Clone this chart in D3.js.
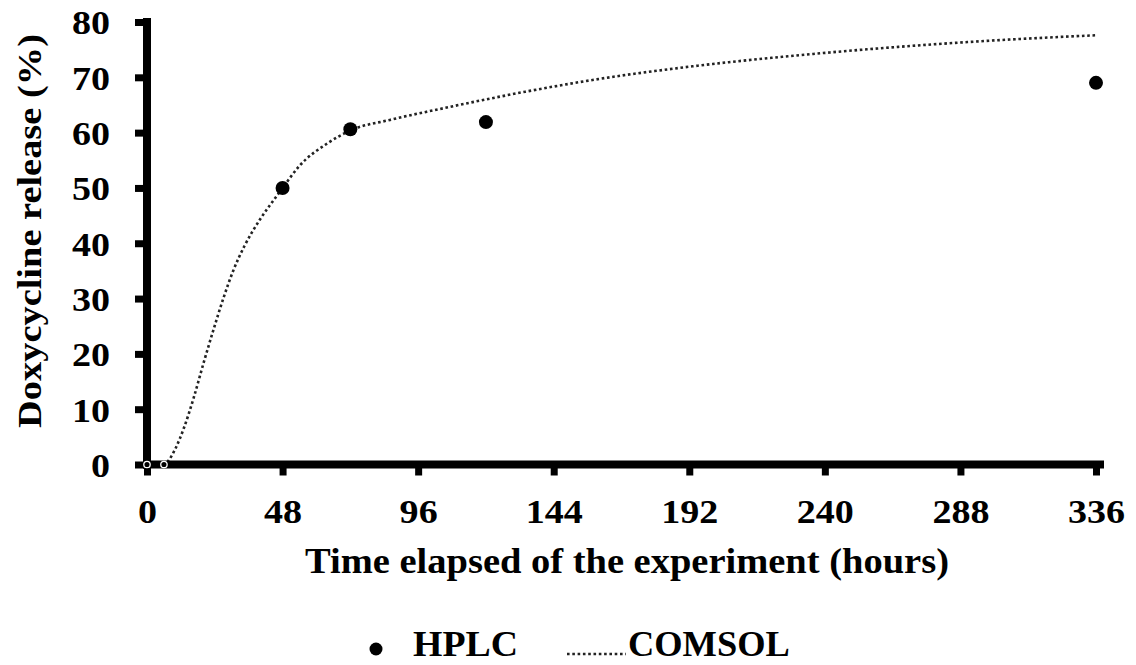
<!DOCTYPE html>
<html>
<head>
<meta charset="utf-8">
<script src="https://cdn.jsdelivr.net/npm/d3@7"></script>
<style>
  body { margin: 0; background: #fff; }
  text { font-family: "Liberation Serif", "Times New Roman", serif; font-weight: bold; fill: #000; }
</style>
</head>
<body>
<script>
// HPLC measurements
var hplcHours = [0, 6, 48, 72, 120, 336];
var hplcRelease = [0, 0, 50, 60.6, 61.9, 69];

// COMSOL model curve
var comsolHours = [0, 6, 8, 10, 13, 16.5, 20, 23.5, 27, 30.5, 34.5, 40, 45, 48, 54, 64, 72, 86, 103, 119, 134, 160, 195, 231, 266, 301, 336];
var comsolRelease = [0, 0, 1, 2.8, 6.5, 12, 18.3, 24.3, 30, 35, 39.5, 44.3, 47.9, 50, 54, 58.1, 60.4, 62.3, 64.2, 65.9, 67.4, 69.7, 72.1, 74, 75.5, 76.7, 77.6];

var xTicks = [0, 48, 96, 144, 192, 240, 288, 336];
var yTicks = [0, 10, 20, 30, 40, 50, 60, 70, 80];

var width = 1136, height = 665;
var stretch = 1.12; // the source text is a bit wide

var x = d3.scaleLinear().domain([0, 336]).range([147, 1096]);
var y = d3.scaleLinear().domain([0, 80]).range([464.5, 22]);

var svg = d3.select("body").append("svg")
    .attr("width", width)
    .attr("height", height);

svg.append("rect").attr("width", width).attr("height", height).attr("fill", "#fff");

// model curve
var line = d3.line()
    .x(function(d) { return x(d[0]); })
    .y(function(d) { return y(d[1]); })
    .curve(d3.curveMonotoneX);

var comsol = comsolHours.map(function(t, i) { return [t, comsolRelease[i]]; });

svg.append("path")
    .datum(comsol)
    .attr("d", line)
    .attr("fill", "none")
    .attr("stroke", "#222")
    .attr("stroke-width", 2.6)
    .attr("stroke-dasharray", "2.6,2.7");

// axes
var yAxis = svg.append("g")
    .attr("transform", "translate(" + x(0) + ",0)")
    .call(d3.axisLeft(y).tickValues(yTicks).tickSize(12).tickSizeOuter(0));

var xAxis = svg.append("g")
    .attr("transform", "translate(0," + y(0) + ")")
    .call(d3.axisBottom(x).tickValues(xTicks).tickSize(11).tickSizeOuter(0));

[yAxis, xAxis].forEach(function(g) {
  g.select(".domain").attr("stroke", "#000").attr("stroke-width", 8);
  g.selectAll(".tick line").attr("stroke", "#000").attr("stroke-width", 7);
  g.selectAll(".tick text")
      .style("font-family", "'Liberation Serif', serif")
      .style("font-weight", "bold")
      .style("font-size", "34px")
      .attr("fill", "#000")
      .attr("x", null).attr("y", null).attr("dy", null);
});
yAxis.selectAll(".tick text")
    .attr("dy", "0.35em")
    .attr("transform", "translate(-37,0)scale(" + stretch + ",1)");
xAxis.selectAll(".tick text")
    .attr("transform", "translate(0,58.5)scale(" + stretch + ",1)");

// extend domains a bit past the end ticks
yAxis.select(".domain").attr("d", "M0," + (y(0) + 4) + "V" + (y(80) - 4));
xAxis.select(".domain").attr("d", "M" + (x(0) - 4) + ",0H" + (x(336) + 8));

// HPLC points
var hplc = hplcHours.map(function(t, i) { return [t, hplcRelease[i]]; });
svg.selectAll(".hplc")
    .data(hplc)
  .enter().append("circle")
    .attr("class", "hplc")
    .attr("cx", function(d) { return x(d[0]); })
    .attr("cy", function(d) { return y(d[1]); })
    .attr("r", function(d) { return d[1] === 0 ? 3.2 : 7; })
    .attr("fill", "#000")
    .attr("stroke", function(d) { return d[1] === 0 ? "#fff" : "none"; })
    .attr("stroke-width", 1.3);

// axis titles
svg.append("text")
    .attr("transform", "translate(627,573)scale(1.1,1)")
    .attr("text-anchor", "middle")
    .style("font-size", "35px")
    .text("Time elapsed of the experiment (hours)");

svg.append("text")
    .attr("transform", "translate(41,231)rotate(-90)scale(1.13,1)")
    .attr("text-anchor", "middle")
    .style("font-size", "34px")
    .text("Doxycycline release (%)");

// legend
var legend = svg.append("g");
legend.append("circle")
    .attr("cx", 376).attr("cy", 649).attr("r", 6.5).attr("fill", "#000");
legend.append("text")
    .attr("transform", "translate(413,656)scale(1.08,1)")
    .style("font-size", "35px")
    .text("HPLC");
legend.append("line")
    .attr("x1", 567).attr("x2", 626).attr("y1", 654).attr("y2", 654)
    .attr("stroke", "#222").attr("stroke-width", 2.6)
    .attr("stroke-dasharray", "2.6,2.7");
legend.append("text")
    .attr("transform", "translate(628,656)scale(1.04,1)")
    .style("font-size", "35px")
    .text("COMSOL");
</script>
</body>
</html>
